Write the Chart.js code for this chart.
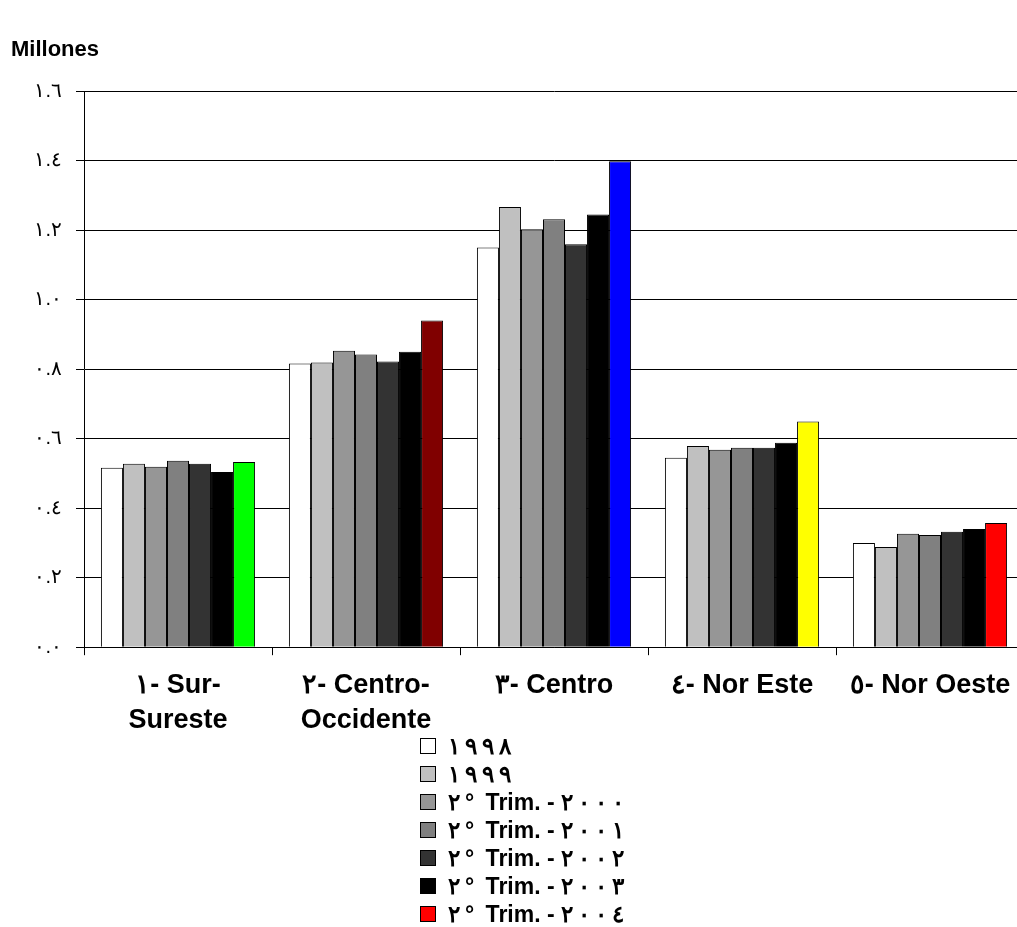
<!DOCTYPE html>
<html>
<head>
<meta charset="utf-8">
<script src="https://cdn.jsdelivr.net/npm/chart.js@4.4.0/dist/chart.umd.min.js"></script>
<style>
  html, body { margin: 0; padding: 0; background: #fff; overflow: hidden; }
  #wrap { position: relative; width: 1017px; height: 927px; overflow: hidden; }
  #chart { position: absolute; left: 0; top: 0; }
  #legend { position: absolute; left: 420px; top: 732px; font: bold 23px "Liberation Sans", Arial, sans-serif; color: #000; }
  #legend .row { display: flex; align-items: center; height: 28px; white-space: pre; }
  #legend .box { width: 14px; height: 14px; border: 1px solid #000; margin-right: 12px; }
  #legend .ch { display: inline-block; padding-right: 5px; }
</style>
</head>
<body>
<div id="wrap">
  <canvas id="chart" width="1024" height="927"></canvas>
  <div id="legend"></div>
</div>
<script>
const regions = [
  ["١- Sur-", "Sureste"],
  ["٢- Centro-", "Occidente"],
  ["٣- Centro"],
  ["٤- Nor Este"],
  ["٥- Nor Oeste"]
];
const seriesNames = [
  "١٩٩٨", "١٩٩٩",
  "٢° Trim. - ٢٠٠٠", "٢° Trim. - ٢٠٠١", "٢° Trim. - ٢٠٠٢",
  "٢° Trim. - ٢٠٠٣", "٢° Trim. - ٢٠٠٤"
];
// millones
const v1998 = [0.516, 0.816, 1.150, 0.545, 0.300];
const v1999 = [0.528, 0.819, 1.266, 0.579, 0.288];
const v2000 = [0.519, 0.853, 1.202, 0.568, 0.326];
const v2001 = [0.536, 0.842, 1.231, 0.574, 0.323];
const v2002 = [0.528, 0.822, 1.159, 0.574, 0.332];
const v2003 = [0.504, 0.850, 1.245, 0.588, 0.340];
const v2004 = [0.533, 0.940, 1.398, 0.649, 0.357];
const yTickLabels = ["٠.٠", "٠.٢", "٠.٤", "٠.٦", "٠.٨", "١.٠", "١.٢", "١.٤", "١.٦"];

const seriesValues = [v1998, v1999, v2000, v2001, v2002, v2003, v2004];
const greys = ["#ffffff", "#c0c0c0", "#969696", "#808080", "#333333", "#000000"];
const lastColors = ["#00ff00", "#800000", "#0000ff", "#ffff00", "#ff0000"];

const datasets = seriesValues.map((vals, i) => ({
  label: seriesNames[i],
  data: vals,
  backgroundColor: i < 6 ? greys[i] : lastColors,
  borderColor: "#000",
  borderWidth: 1,
  categoryPercentage: 0.82,
  barPercentage: 1.0
}));

const ctx = document.getElementById("chart").getContext("2d");
const chart = new Chart(ctx, {
  type: "bar",
  data: { labels: regions, datasets: datasets },
  options: {
    responsive: false,
    animation: false,
    layout: { padding: { left: 11, right: 0, top: 0, bottom: 176 } },
    plugins: {
      legend: { display: false },
      tooltip: { enabled: false },
      title: {
        display: true,
        text: "Millones",
        align: "start",
        color: "#000",
        font: { family: "'Liberation Sans', Arial, sans-serif", size: 22, weight: "bold", lineHeight: 1.2 },
        padding: { top: 37, bottom: 27.6 }
      }
    },
    scales: {
      x: {
        grid: { display: true, drawOnChartArea: false, drawTicks: true, tickLength: 8, offset: true, color: "#000" },
        border: { display: true, color: "#000", width: 1 },
        ticks: {
          color: "#000",
          padding: 12,
          maxRotation: 0,
          autoSkip: false,
          font: { family: "'Liberation Sans', Arial, sans-serif", size: 27, weight: "bold", lineHeight: 1.33 }
        }
      },
      y: {
        min: 0,
        max: 1.6,
        afterFit: (s) => { s.width = 73; },
        grid: { color: "#000", lineWidth: 1, tickLength: 8 },
        border: { display: true, color: "#000", width: 1 },
        ticks: {
          stepSize: 0.2,
          color: "#000",
          padding: 14,
          font: { family: "'Liberation Sans', Arial, sans-serif", size: 20 },
          callback: (v, i) => yTickLabels[i]
        }
      }
    }
  }
});

// legend as vertical list below the chart, digits spread out like the original
const legendEl = document.getElementById("legend");
chart.data.datasets.forEach((ds) => {
  const row = document.createElement("div");
  row.className = "row";
  const box = document.createElement("span");
  box.className = "box";
  box.style.background = Array.isArray(ds.backgroundColor) ? ds.backgroundColor[ds.backgroundColor.length - 1] : ds.backgroundColor;
  row.appendChild(box);
  const txt = document.createElement("span");
  for (const c of ds.label) {
    const s = document.createElement("span");
    if (/[\u0660-\u0669°]/.test(c)) s.className = "ch";
    s.textContent = c;
    txt.appendChild(s);
  }
  row.appendChild(txt);
  legendEl.appendChild(row);
});
</script>
</body>
</html>
